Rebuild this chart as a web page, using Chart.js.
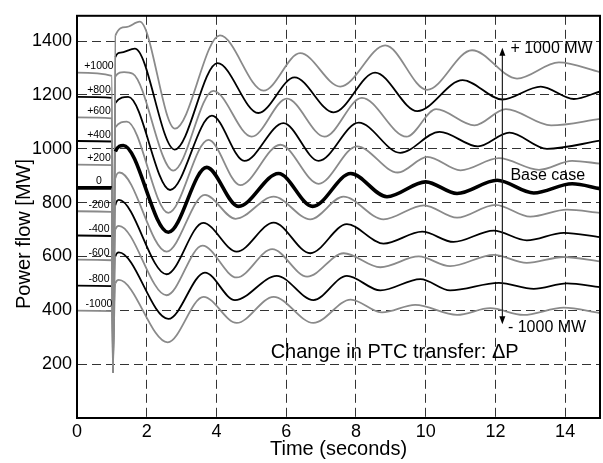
<!DOCTYPE html>
<html><head><meta charset="utf-8">
<script src="https://cdn.jsdelivr.net/npm/chart.js@4"></script>
<style>html,body{margin:0;padding:0;background:#fff}#wrap{width:603px;height:463px;position:relative}</style>
</head><body><div id="wrap"><canvas id="c"></canvas></div>
<script>
// ---- data ----
const xTicks = [0, 2, 4, 6, 8, 10, 12, 14];
const yTicks = [200, 400, 600, 800, 1000, 1200, 1400];
const caseLabels = ['+1000', '+800', '+600', '+400', '+200', '0', '-200', '-400', '-600', '-800', '-1000'];

const tP1000 = [0, 1.0, 1.03, 1.1, 1.4, 1.8, 2.81, 4.1, 5.35, 6.4, 7.55, 8.84, 10.04, 11.33, 12.62, 13.82, 15];
const vP1000 = [1283, 1271, 170, 1420, 1452, 1472, 1075, 1421, 1216, 1355, 1231, 1384, 1219, 1366, 1261, 1321, 1285];
const tP800 = [0, 1.0, 1.03, 1.1, 1.25, 1.66, 2.8, 4.03, 5.2, 6.24, 7.36, 8.55, 9.76, 11.06, 12.2, 13.3, 14.25, 15];
const vP800 = [1193, 1189, 170, 1340, 1357, 1372, 997, 1318, 1133, 1265, 1135, 1283, 1140, 1255, 1183, 1231, 1185, 1213];
const tP600 = [0, 1.0, 1.03, 1.1, 1.35, 1.6, 2.76, 3.91, 5.01, 6.02, 7.1, 8.17, 9.45, 10.3, 11.4, 12.3, 13.6, 15];
const vP600 = [1117, 1113, 170, 1268, 1285, 1279, 919, 1215, 1045, 1186, 1045, 1189, 1045, 1147, 1087, 1147, 1087, 1111];
const tP400 = [0, 1.0, 1.03, 1.1, 1.47, 2.67, 3.87, 4.8, 5.92, 6.93, 8.08, 9.27, 10.4, 11.5, 12.4, 13.48, 15];
const vP400 = [1029, 1027, 170, 1170, 1193, 847, 1123, 955, 1095, 955, 1097, 985, 1063, 1009, 1060, 1000, 1030];
const tP200 = [0, 1.0, 1.03, 1.1, 1.43, 2.62, 3.77, 4.68, 5.83, 6.93, 8.03, 9.2, 10.05, 11.0, 12.1, 13.25, 14.2, 15];
const vP200 = [941, 939, 170, 1080, 1101, 762, 1033, 865, 1015, 870, 1009, 912, 970, 920, 965, 922, 955, 945];
const tBase = [0, 1.0, 1.03, 1.1, 1.33, 2.62, 3.72, 4.63, 5.78, 6.76, 7.85, 8.89, 10.0, 10.9, 12.05, 13.1, 14.2, 15];
const vBase = [855, 855, 170, 990, 1012, 690, 931, 786, 908, 786, 908, 822, 877, 834, 883, 836, 870, 852];
const tM200 = [0, 1.0, 1.03, 1.1, 1.22, 2.57, 3.67, 4.55, 5.64, 6.69, 7.64, 8.79, 9.95, 10.9, 12.0, 13.0, 14.05, 15];
const vM200 = [768, 766, 170, 890, 912, 618, 829, 740, 822, 738, 822, 738, 790, 744, 792, 748, 774, 762];
const tM400 = [0, 1.0, 1.03, 1.1, 1.2, 2.57, 3.62, 4.58, 5.64, 6.69, 7.74, 8.79, 9.9, 10.8, 11.95, 12.9, 13.96, 15];
const vM400 = [678, 676, 170, 790, 810, 534, 725, 618, 726, 612, 720, 648, 692, 654, 696, 660, 688, 672];
const tM600 = [0, 1.0, 1.03, 1.1, 1.2, 2.57, 3.6, 4.58, 5.6, 6.6, 7.65, 8.7, 9.8, 10.7, 11.95, 12.9, 13.96, 15];
const vM600 = [588, 586, 170, 700, 714, 456, 640, 522, 627, 525, 612, 560, 600, 564, 606, 576, 598, 582];
const tM800 = [0, 1.0, 1.03, 1.1, 1.2, 2.62, 3.67, 4.53, 5.73, 6.78, 7.74, 8.7, 9.85, 10.7, 12.1, 13.1, 14.05, 15];
const vM800 = [492, 490, 170, 600, 615, 368, 540, 438, 528, 438, 528, 474, 516, 474, 502, 480, 500, 486];
const tM1000 = [0, 1.0, 1.03, 1.1, 1.2, 2.6, 3.63, 4.58, 5.64, 6.78, 7.85, 8.75, 9.7, 10.9, 11.85, 12.8, 13.96, 15];
const vM1000 = [399, 397, 170, 500, 513, 281, 450, 353, 450, 353, 440, 392, 420, 383, 408, 383, 410, 390];

// annotation anchors (data coordinates)
const arrowT = 12.2, arrowTopV = 1375, arrowBottomV = 348;
const faultStart = 1.0, faultEnd = 1.1;

const series = [
  {t: tP1000, v: vP1000}, {t: tP800, v: vP800}, {t: tP600, v: vP600}, {t: tP400, v: vP400},
  {t: tP200, v: vP200}, {t: tBase, v: vBase}, {t: tM200, v: vM200}, {t: tM400, v: vM400},
  {t: tM600, v: vM600}, {t: tM800, v: vM800}, {t: tM1000, v: vM1000}
];
const BASE = 5;
const FONT = '"Liberation Sans", Arial, Helvetica, sans-serif';

const inFault = ctx => ctx.p0.parsed.x >= faultStart && ctx.p1.parsed.x <= faultEnd;

const datasets = series.map((s, i) => {
  const col = i === BASE ? '#000' : (i % 2 === 0 ? '#8a8a8a' : '#000');
  const w = i === BASE ? 3.6 : 1.8;
  return {
    label: caseLabels[i],
    data: s.t.map((t, k) => ({x: t, y: s.v[k]})),
    borderColor: col,
    borderWidth: w,
    segment: {
      borderWidth: c => inFault(c) ? 1.4 : w,
      borderColor: c => inFault(c) ? '#8a8a8a' : col
    },
    pointRadius: 0,
    fill: false,
    cubicInterpolationMode: 'monotone',
    order: i === BASE ? 0 : 1
  };
});

const overlay = {
  id: 'overlay',
  afterDraw(chart) {
    const {ctx, chartArea: a, scales: {x, y}} = chart;
    ctx.save();
    ctx.fillStyle = '#000';
    ctx.font = '10.5px ' + FONT;
    ctx.textAlign = 'center';
    ctx.textBaseline = 'bottom';
    series.forEach((s, i) => {
      ctx.fillText(caseLabels[i], x.getPixelForValue(0.63), y.getPixelForValue(s.v[0]) - 1);
    });
    const ax = x.getPixelForValue(arrowT);
    const y1 = y.getPixelForValue(arrowTopV), y2 = y.getPixelForValue(arrowBottomV);
    ctx.strokeStyle = '#222'; ctx.lineWidth = 1.2;
    ctx.beginPath(); ctx.moveTo(ax, y1 + 4); ctx.lineTo(ax, y2 - 4); ctx.stroke();
    ctx.fillStyle = '#000';
    ctx.beginPath(); ctx.moveTo(ax, y1); ctx.lineTo(ax - 3, y1 + 8); ctx.lineTo(ax + 3, y1 + 8); ctx.closePath(); ctx.fill();
    ctx.beginPath(); ctx.moveTo(ax, y2); ctx.lineTo(ax - 3, y2 - 8); ctx.lineTo(ax + 3, y2 - 8); ctx.closePath(); ctx.fill();
    ctx.font = '16px ' + FONT;
    ctx.textAlign = 'left'; ctx.textBaseline = 'middle';
    ctx.fillText('+ 1000 MW', x.getPixelForValue(12.43), y.getPixelForValue(1372));
    ctx.fillText('Base case', x.getPixelForValue(12.43), y.getPixelForValue(902));
    ctx.fillText('- 1000 MW', x.getPixelForValue(12.36), y.getPixelForValue(335));
    ctx.font = '20px ' + FONT;
    ctx.textAlign = 'center';
    ctx.fillText('Change in PTC transfer: \u0394P', x.getPixelForValue(9.11), y.getPixelForValue(242));
    ctx.save();
    ctx.translate(24, 234); ctx.rotate(-Math.PI / 2);
    ctx.font = '20px ' + FONT; ctx.textAlign = 'center'; ctx.textBaseline = 'middle';
    ctx.fillText('Power flow [MW]', 0, 0);
    ctx.restore();
    ctx.strokeStyle = '#000'; ctx.lineWidth = 2;
    ctx.strokeRect(a.left, a.top, a.right - a.left, a.bottom - a.top);
    ctx.restore();
  }
};

new Chart(document.getElementById('c'), {
  type: 'line',
  data: {datasets},
  plugins: [overlay],
  options: {
    responsive: true,
    maintainAspectRatio: false,
    animation: false,
    layout: {padding: {left: 0, right: 3, top: 4, bottom: 0}},
    plugins: {legend: {display: false}, tooltip: {enabled: false}},
    scales: {
      x: {
        type: 'linear', min: 0, max: 15,
        afterBuildTicks: s => { s.ticks = xTicks.map(v => ({value: v})); },
        afterFit: s => { s.height = 45; },
        ticks: {font: {size: 18, family: FONT}, color: '#000', padding: 3, callback: v => String(v)},
        grid: {color: '#333', lineWidth: 1, drawTicks: false},
        border: {display: true, color: '#000', width: 2, dash: [9, 5]},
        title: {display: true, text: 'Time (seconds)', color: '#000', font: {size: 20, family: FONT}, padding: {top: 0, bottom: 2}}
      },
      y: {
        type: 'linear', min: 0, max: 1494,
        afterBuildTicks: s => { s.ticks = yTicks.map(v => ({value: v})); },
        afterFit: s => { s.width = 77; },
        ticks: {font: {size: 18, family: FONT}, color: '#000', padding: 5, callback: v => String(v)},
        grid: {color: '#333', lineWidth: 1, drawTicks: false},
        border: {display: true, color: '#000', width: 2, dash: [9, 5]}
      }
    }
  }
});
</script>
</body></html>
